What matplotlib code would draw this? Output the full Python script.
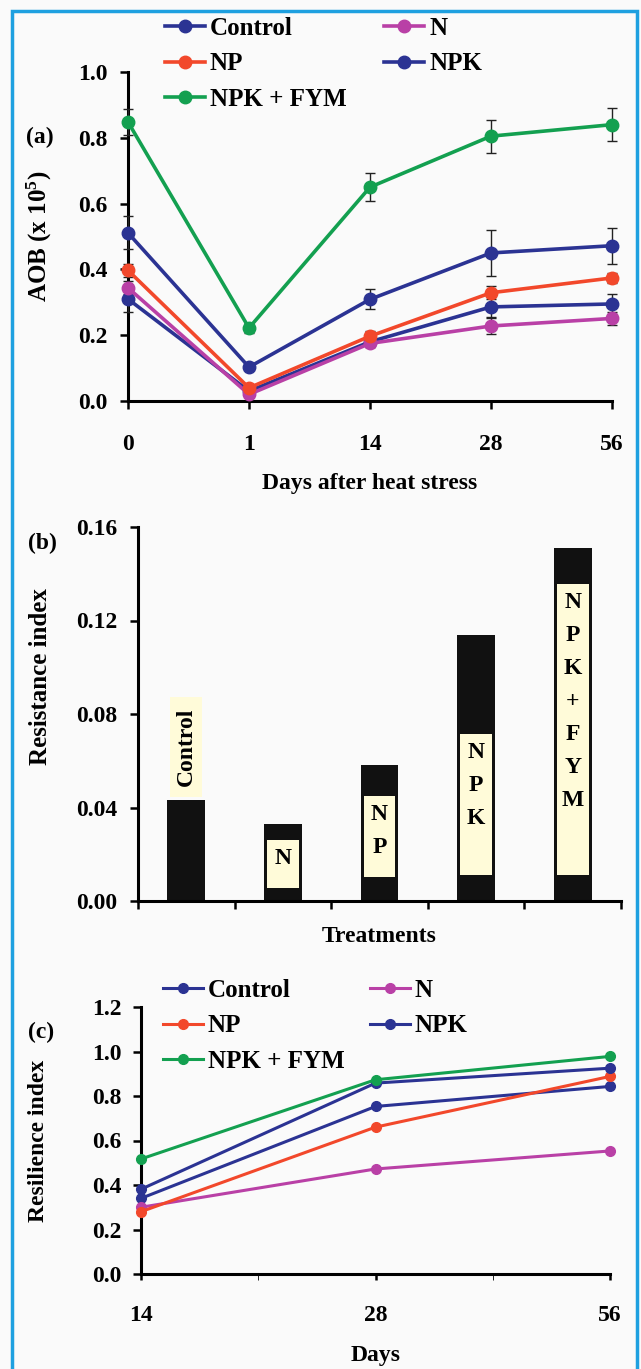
import numpy as np
import matplotlib
matplotlib.use("Agg")
import matplotlib.pyplot as plt
from matplotlib.lines import Line2D
from matplotlib.patches import Rectangle

plt.rcParams['font.family'] = ['Liberation Serif', 'DejaVu Serif']
plt.rcParams['font.weight'] = 'bold'
plt.rcParams['axes.labelweight'] = 'bold'
plt.rcParams['mathtext.fontset'] = 'custom'
plt.rcParams['mathtext.rm'] = 'Liberation Serif:bold'
plt.rcParams['mathtext.it'] = 'Liberation Serif:bold'
plt.rcParams['mathtext.bf'] = 'Liberation Serif:bold'

# ---- data ----
treatments = ["Control", "N", "NP", "NPK", "NPK + FYM"]
colors = {"Control": "#2b3393", "N": "#b940a6", "NP": "#f2482b",
          "NPK": "#2b3393", "NPK + FYM": "#13a050"}

# (a) AOB over days after heat stress
days_a = ["0", "1", "14", "28", "56"]
aob = {
    "Control":   [0.31, 0.030, 0.180, 0.286, 0.295],
    "N":         [0.344, 0.020, 0.175, 0.228, 0.251],
    "NP":        [0.397, 0.040, 0.197, 0.329, 0.374],
    "NPK":       [0.511, 0.103, 0.309, 0.450, 0.472],
    "NPK + FYM": [0.848, 0.222, 0.650, 0.805, 0.840],
}
aob_err = {
    "Control":   [0.04, 0.008, 0.015, 0.03, 0.03],
    "N":         [0.02, 0.008, 0.012, 0.025, 0.02],
    "NP":        [0.02, 0.008, 0.015, 0.02, 0.015],
    "NPK":       [0.05, 0.010, 0.030, 0.070, 0.055],
    "NPK + FYM": [0.04, 0.015, 0.043, 0.050, 0.050],
}

# (b) resistance index
resistance = [0.043, 0.033, 0.058, 0.114, 0.151]
label_text = ["Control", "N", "N\nP", "N\nP\nK", "N\nP\nK\n+\nF\nY\nM"]
label_box_bottom = [0.0446, 0.0057, 0.0103, 0.011, 0.011]
label_box_top = [0.0874, 0.0263, 0.0449, 0.0714, 0.1356]

# (c) resilience index
days_c = ["14", "28", "56"]
resilience = {
    "Control":   [0.34, 0.753, 0.843],
    "N":         [0.30, 0.472, 0.553],
    "NP":        [0.28, 0.660, 0.888],
    "NPK":       [0.381, 0.858, 0.925],
    "NPK + FYM": [0.517, 0.873, 0.978],
}

W, H = 641, 1369
FS = 17
fig = plt.figure(figsize=(W / 100, H / 100), dpi=100, facecolor="#fafafa")


def box(l, t, r, b):
    return [l / W, 1 - b / H, (r - l) / W, (b - t) / H]


def style(ax):
    for s in ["top", "right"]:
        ax.spines[s].set_visible(False)
    for s in ["left", "bottom"]:
        ax.spines[s].set_linewidth(2.2)
    ax.set_facecolor("none")
    ax.tick_params(direction="out", length=6, width=1.8, labelsize=FS)


def legend(ax, x, y, ms, lw, colsp):
    h = {t: Line2D([], [], color=colors[t], marker="o", lw=lw, ms=ms) for t in treatments}
    order = ["Control", "NP", "NPK + FYM", "N", "NPK"]
    ax.legend([h[o] for o in order], order, ncol=2, frameon=False, fontsize=18,
              loc="upper left", bbox_to_anchor=(x / W, 1 - y / H),
              bbox_transform=fig.transFigure, handlelength=1.6, handletextpad=0.2,
              columnspacing=colsp, labelspacing=0.5, borderaxespad=0, borderpad=0)


# ---- panel (a) ----
ax1 = fig.add_axes(box(128, 72, 612, 401))
xa = np.arange(len(days_a))
for t in treatments:
    ax1.errorbar(xa, aob[t], yerr=aob_err[t], color=colors[t], marker="o", ms=9,
                 lw=2.6, ecolor="#222222", elinewidth=1.0, capsize=3.5, capthick=1.0,
                 clip_on=False, zorder=3)
ax1.set_xlim(0, 4)
ax1.set_ylim(0, 1.0)
ax1.set_xticks(xa)
ax1.set_xticklabels(days_a)
ya = np.arange(0, 1.01, 0.2)
ax1.set_yticks(ya)
ax1.set_yticklabels([f"{v:.1f}" for v in ya])
style(ax1)
ax1.tick_params(axis="x", pad=18)
ax1.tick_params(axis="y", pad=9)
ax1.set_xlabel("Days after heat stress", fontsize=FS)
ax1.xaxis.set_label_coords(0.5, (401 - 483) / 329)
ax1.xaxis.label.set_va("center")
ax1.set_ylabel("AOB (x 10$^{5}$)", fontsize=18)
ax1.yaxis.set_label_coords((39 - 128) / 484, 0.5)
ax1.yaxis.label.set_va("center")
legend(ax1, 165, 17, 9, 2.6, 1.5)
fig.text(40 / W, 1 - 137 / H, "(a)", fontsize=FS, ha="center", va="center")

# ---- panel (b) ----
ax2 = fig.add_axes(box(138, 527, 621, 901))
xb = np.arange(len(treatments))
ax2.bar(xb, resistance, width=0.39, color="#111111", zorder=2)
ax2.bar(xb, np.array(label_box_top) - np.array(label_box_bottom), bottom=label_box_bottom,
        width=0.33, color="#fffbd9", zorder=3)
for i, txt in enumerate(label_text):
    if i == 0:
        ax2.text(xb[i], (label_box_top[i] + label_box_bottom[i]) / 2, txt, rotation=90,
                 ha="center", va="center", fontsize=FS, zorder=4)
    else:
        ax2.text(xb[i], label_box_top[i] - 0.0035, txt, ha="center", va="top",
                 fontsize=FS, linespacing=1.75, zorder=4)
ax2.set_xlim(-0.5, 4.5)
ax2.set_ylim(0, 0.16)
ax2.set_xticks(np.arange(-0.5, 4.6, 1.0))
ax2.set_xticklabels([])
yb = np.arange(0, 0.161, 0.04)
ax2.set_yticks(yb)
ax2.set_yticklabels([f"{v:.2f}" for v in yb])
style(ax2)
ax2.tick_params(axis="y", pad=9)
ax2.set_xlabel("Treatments", fontsize=FS)
ax2.xaxis.set_label_coords(0.5, (901 - 936) / 374)
ax2.xaxis.label.set_va("center")
ax2.set_ylabel("Resistance index", fontsize=18)
ax2.yaxis.set_label_coords((41 - 138) / 483, (901 - 677) / 374)
ax2.yaxis.label.set_va("center")
fig.text(42 / W, 1 - 543 / H, "(b)", fontsize=FS, ha="center", va="center")

# ---- panel (c) ----
ax3 = fig.add_axes(box(141, 1007, 610, 1274))
xc = np.arange(len(days_c))
for t in treatments:
    ax3.plot(xc, resilience[t], color=colors[t], marker="o", ms=7, lw=2.2,
             clip_on=False, zorder=3)
ax3.set_xlim(0, 2)
ax3.set_ylim(0, 1.2)
ax3.set_xticks(xc)
ax3.set_xticklabels(days_c)
ax3.set_xticks([0.5, 1.5], minor=True)
yc = np.arange(0, 1.21, 0.2)
ax3.set_yticks(yc)
ax3.set_yticklabels([f"{v:.1f}" for v in yc])
style(ax3)
ax3.tick_params(axis="x", which="both", length=4, pad=18)
ax3.tick_params(axis="y", pad=8)
ax3.set_xlabel("Days", fontsize=FS)
ax3.xaxis.set_label_coords(0.5, (1274 - 1355) / 267)
ax3.xaxis.label.set_va("center")
ax3.set_ylabel("Resilience index", fontsize=FS)
ax3.yaxis.set_label_coords((39 - 141) / 469, 0.5)
ax3.yaxis.label.set_va("center")
legend(ax3, 163, 979, 7, 2.2, 1.0)
fig.text(41 / W, 1 - 1032 / H, "(c)", fontsize=FS, ha="center", va="center")

# blue frame
fig.add_artist(Rectangle((12 / W, -0.01), (637 - 12) / W, 1.01 - 11 / H,
                         transform=fig.transFigure, fill=False,
                         edgecolor="#1ea0e0", lw=2.5))

fig.savefig("out.png", dpi=100, facecolor=fig.get_facecolor())
